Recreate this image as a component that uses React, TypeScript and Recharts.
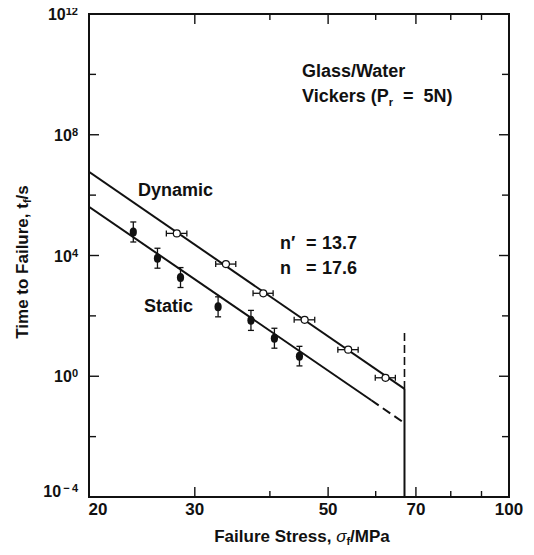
import { ComposedChart, XAxis, YAxis, Scatter, Line, ErrorBar, ReferenceLine, Customized } from "recharts";

const FONT = "'Liberation Sans', Arial, Helvetica, sans-serif";
const INK = "#111";

// dynamic fatigue (open circles): failure stress in MPa, time to failure in s
const dynamicStress = [28.0, 33.8, 39.0, 45.7, 54.0, 62.3];
const dynamicTime = [5.4e4, 5.2e3, 5.6e2, 74, 7.6, 0.89];
const dynamicStressErr = [1.1, 1.3, 1.5, 1.8, 2.1, 2.4];

// static fatigue (filled circles)
const staticStress = [23.7, 26.0, 28.4, 32.8, 37.2, 40.7, 44.8];
const staticTime = [6.0e4, 8.1e3, 1.86e3, 200, 71, 18.2, 4.6];
const staticTimeErrLow = [3.2e4, 4.3e3, 990, 107, 38, 9.7, 2.4];
const staticTimeErrHigh = [6.9e4, 9.3e3, 2120, 228, 81, 20.7, 5.2];

// fitted lines
const dynamicFitStress = [20, 67];
const dynamicFitTime = [5.9e6, 0.38];
const staticFitStress = [20, 59];
const staticFitTime = [4.1e5, 0.16];
const staticExtStress = [59, 67];
const staticExtTime = [0.16, 0.028];

// inert strength limit
const limitStress = [67, 67];
const limitTimeSolid = [1e-4, 0.38];
const limitTimeDashed = [0.38, 30];

const xTicks = [20, 30, 40, 50, 60, 70, 80, 90, 100];
const xLabels = [20, 30, 50, 70, 100];
const yTicks = [1e-4, 1e-2, 1, 1e2, 1e4, 1e6, 1e8, 1e10, 1e12];
const yLabelExps = [-4, 0, 4, 8, 12];

// plot box
const PLOT = { left: 89, top: 14, w: 420, h: 483 };

const pairs = (xs: number[], ys: number[]) => xs.map((s, i) => ({ s, t: ys[i] }));

const dynamicData = dynamicStress.map((s, i) => ({ s, t: dynamicTime[i], err: dynamicStressErr[i] }));
const staticData = staticStress.map((s, i) => ({
  s,
  t: staticTime[i],
  err: [staticTimeErrLow[i], staticTimeErrHigh[i]],
}));

const XTick = ({ x, y, payload }: any) => {
  const v = payload.value;
  const len = [30, 50, 70].includes(v) ? 10 : 6;
  const top = y - PLOT.h;
  return (
    <g>
      {v !== 20 && v !== 100 && (
        <g>
          <line x1={x} y1={y} x2={x} y2={y - len} stroke={INK} strokeWidth={1.4} />
          <line x1={x} y1={top} x2={x} y2={top + len} stroke={INK} strokeWidth={1.4} />
        </g>
      )}
      {xLabels.includes(v) && (
        <text x={v === 20 ? x + 9 : x} y={y + 18} textAnchor="middle" fontFamily={FONT} fontWeight="bold" fontSize={17} fill={INK}>
          {v}
        </text>
      )}
    </g>
  );
};

const YTick = ({ x, y, payload }: any) => {
  const e = Math.round(Math.log10(payload.value));
  const major = yLabelExps.includes(e);
  const len = major ? 10 : 7;
  const right = x + PLOT.w;
  return (
    <g>
      {e !== -4 && e !== 12 && (
        <g>
          <line x1={x} y1={y} x2={x + len} y2={y} stroke={INK} strokeWidth={1.4} />
          <line x1={right} y1={y} x2={right - len} y2={y} stroke={INK} strokeWidth={1.4} />
        </g>
      )}
      {major && (
        <text x={x - 11} y={e === -4 ? y : y + 6} textAnchor="end" fontFamily={FONT} fontWeight="bold" fontSize={16} fill={INK}>
          10
          <tspan dy={-5} fontSize={11}>
            {e < 0 ? "\u2009\u2212\u20094" : e}
          </tspan>
        </text>
      )}
    </g>
  );
};

const txt = { fontFamily: FONT, fontWeight: "bold", fontSize: 18, fill: INK } as const;

const Annotations = () => (
  <g>
    <rect x={PLOT.left} y={PLOT.top} width={PLOT.w} height={PLOT.h} fill="none" stroke={INK} strokeWidth={2} />
    <text x={302} y={77} {...txt}>Glass/Water</text>
    <text x={302} y={102} {...txt}>
      Vickers (P<tspan dy={4} fontSize={11}>r</tspan>
      <tspan dy={-4}>{"\u00a0\u00a0=\u00a0\u00a05N)"}</tspan>
    </text>
    <text x={138} y={196} {...txt}>Dynamic</text>
    <text x={144} y={312} {...txt}>Static</text>
    <text x={280} y={249} {...txt}>n′</text>
    <text x={306} y={249} {...txt}>=</text>
    <text x={322} y={249} {...txt}>13.7</text>
    <text x={280} y={274} {...txt}>n</text>
    <text x={306} y={274} {...txt}>=</text>
    <text x={322} y={274} {...txt}>17.6</text>
    <text x={302} y={542} textAnchor="middle" {...txt} fontSize={17}>
      Failure Stress, <tspan fontStyle="italic" fontWeight="normal">σ</tspan>
      <tspan dy={3} fontSize={11}>f</tspan>
      <tspan dy={-3}>/MPa</tspan>
    </text>
    <text x={28} y={262} textAnchor="middle" transform="rotate(-90 28 262)" {...txt} fontSize={17}>
      Time to Failure, t<tspan dy={3} fontSize={11}>f</tspan>
      <tspan dy={-3}>/s</tspan>
    </text>
  </g>
);

const OpenDot = (p: any) => <circle cx={p.cx} cy={p.cy} r={3.5} fill="#fff" stroke={INK} strokeWidth={1.2} />;
const FilledDot = (p: any) => <ellipse cx={p.cx} cy={p.cy} rx={3.6} ry={4.5} fill={INK} />;

export default function App() {
  return (
    <div style={{ margin: "-8px 0 0 -8px" }}>
      <ComposedChart width={534} height={547} margin={{ top: 14, right: 25, left: 0, bottom: 0 }}>
        <XAxis
          dataKey="s"
          type="number"
          scale="log"
          domain={[20, 100]}
          ticks={xTicks}
          interval={0}
          allowDataOverflow
          height={50}
          tickSize={0}
          tickMargin={0}
          tickLine={false}
          axisLine={{ stroke: INK, strokeWidth: 2 }}
          tick={<XTick />}
        />
        <YAxis
          dataKey="t"
          type="number"
          scale="log"
          domain={[1e-4, 1e12]}
          ticks={yTicks}
          interval={0}
          allowDataOverflow
          width={89}
          tickSize={0}
          tickMargin={0}
          tickLine={false}
          axisLine={{ stroke: INK, strokeWidth: 2 }}
          tick={<YTick />}
        />
        <ReferenceLine x={100} stroke={INK} strokeWidth={2} ifOverflow="visible" />
        <ReferenceLine y={1e12} stroke={INK} strokeWidth={2} ifOverflow="visible" />
        <Line data={pairs(dynamicFitStress, dynamicFitTime)} dataKey="t" stroke={INK} strokeWidth={2} dot={false} isAnimationActive={false} />
        <Line data={pairs(staticFitStress, staticFitTime)} dataKey="t" stroke={INK} strokeWidth={2} dot={false} isAnimationActive={false} />
        <Line data={pairs(staticExtStress, staticExtTime)} dataKey="t" stroke={INK} strokeWidth={2} strokeDasharray="9 5" dot={false} isAnimationActive={false} />
        <Line data={pairs(limitStress, limitTimeSolid)} dataKey="t" stroke={INK} strokeWidth={2} dot={false} isAnimationActive={false} />
        <Line data={pairs(limitStress, limitTimeDashed)} dataKey="t" stroke={INK} strokeWidth={1.6} strokeDasharray="8 4" dot={false} isAnimationActive={false} />
        <Scatter data={dynamicData} dataKey="t" shape={OpenDot} isAnimationActive={false}>
          <ErrorBar dataKey="err" direction="x" width={3} stroke={INK} strokeWidth={1.3} />
        </Scatter>
        <Scatter data={staticData} dataKey="t" shape={FilledDot} isAnimationActive={false}>
          <ErrorBar dataKey="err" direction="y" width={3} stroke={INK} strokeWidth={1.3} />
        </Scatter>
        <Customized component={Annotations} />
      </ComposedChart>
    </div>
  );
}
